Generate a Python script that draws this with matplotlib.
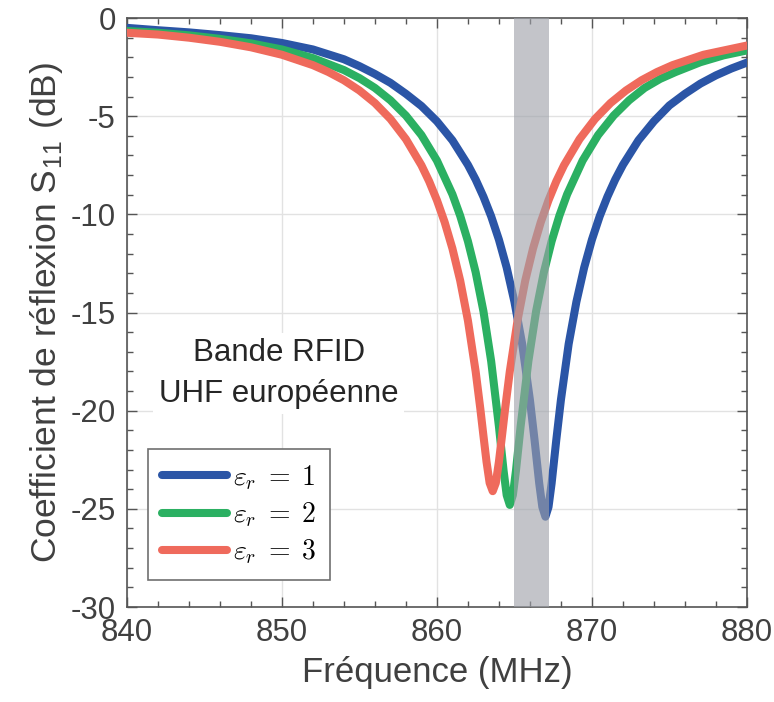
import numpy as np
import matplotlib
matplotlib.use("Agg")
import matplotlib.pyplot as plt
from matplotlib.ticker import MultipleLocator

plt.rcParams['font.family'] = ['Liberation Sans', 'DejaVu Sans']
plt.rcParams['mathtext.fontset'] = 'cm'
plt.rcParams['axes.unicode_minus'] = False

# S11 (dB), one curve per permittivity
f_er1 = [840, 842, 844, 846, 848, 850, 852, 854, 855, 856, 857, 858, 859, 860, 861, 862, 862.5,
         863, 863.5, 864, 864.5, 865, 865.5, 866, 866.3, 866.6, 866.8, 867, 867.2, 867.4, 867.7,
         868, 868.5, 869, 869.5, 870, 870.5, 871, 871.5, 872, 873, 874, 875, 876, 877, 878, 879, 880]
s_er1 = [-0.5, -0.62, -0.73, -0.87, -1.03, -1.27, -1.6, -2.1, -2.45, -2.85, -3.3, -3.86, -4.48,
         -5.26, -6.23, -7.48, -8.23, -9.1, -10.1, -11.29, -12.71, -14.45, -16.6, -19.45, -21.5,
         -23.7, -24.9, -25.4, -24.9, -23.7, -21.5, -19.45, -16.6, -14.45, -12.71, -11.29, -10.1,
         -9.1, -8.23, -7.48, -6.23, -5.26, -4.45, -3.86, -3.34, -2.92, -2.57, -2.27]

f_er2 = [840, 842, 844, 846, 848, 850, 852, 854, 855, 856, 857, 858, 859, 860, 861, 861.5, 862,
         862.5, 863, 863.5, 864, 864.3, 864.5, 864.7, 864.9, 865.1, 865.4, 865.9, 866.4, 866.9,
         867.4, 867.9, 868.4, 869.4, 870.4, 871.4, 872.4, 873.4, 874.4, 875.4, 877, 878.5, 880]
s_er2 = [-0.66, -0.75, -0.88, -1.06, -1.29, -1.6, -2.04, -2.65, -3.06, -3.56, -4.19, -4.97, -5.96,
         -7.26, -8.98, -10.07, -11.37, -12.95, -14.93, -17.48, -20.8, -23.05, -24.3, -24.8, -24.3,
         -23.05, -20.8, -17.48, -14.93, -12.95, -11.37, -10.07, -8.98, -7.26, -5.96, -4.97, -4.19,
         -3.56, -3.1, -2.75, -2.25, -1.9, -1.65]

f_er3 = [840, 842, 844, 846, 848, 850, 852, 853, 854, 855, 856, 857, 858, 859, 859.5, 860, 860.5,
         861, 861.5, 862, 862.5, 862.8, 863, 863.2, 863.4, 863.6, 863.8, 864, 864.2, 864.4, 864.7,
         865.2, 865.7, 866.2, 866.7, 867.2, 867.7, 868.2, 869.2, 870.2, 871.2, 872.2, 873.2, 874.2,
         875.2, 877.2, 880]
s_er3 = [-0.75, -0.84, -1.0, -1.21, -1.49, -1.87, -2.4, -2.75, -3.17, -3.69, -4.33, -5.14, -6.17,
         -7.5, -8.32, -9.28, -10.4, -11.74, -13.37, -15.41, -18.01, -19.9, -21.27, -22.6, -23.68,
         -24.1, -23.68, -22.6, -21.27, -19.9, -18.01, -15.41, -13.37, -11.74, -10.4, -9.28, -8.32,
         -7.5, -6.17, -5.14, -4.33, -3.69, -3.17, -2.75, -2.4, -1.87, -1.4]

labels = [r'$\varepsilon_r \;=\; 1$', r'$\varepsilon_r \;=\; 2$', r'$\varepsilon_r \;=\; 3$']
colors = ['#2b55a6', '#2bb062', '#ef6a5c']

band = (865.0, 867.2)

fig = plt.figure(figsize=(7.74, 7.02), dpi=100)
ax = fig.add_axes([0.164, 0.1353, 0.801, 0.8390])

for f, s, lab, c in zip([f_er1, f_er2, f_er3], [s_er1, s_er2, s_er3], labels, colors):
    ax.plot(f, s, color=c, lw=5.8, label=lab, solid_joinstyle='round',
            solid_capstyle='round', zorder=3)

ax.axvspan(band[0], band[1], color='#9ea1a9', alpha=0.62, lw=0, zorder=4)

ax.set_xlim(840, 880)
ax.set_ylim(-30, 0)
ax.xaxis.set_major_locator(MultipleLocator(10))
ax.xaxis.set_minor_locator(MultipleLocator(2))
ax.yaxis.set_major_locator(MultipleLocator(5))
ax.yaxis.set_minor_locator(MultipleLocator(1))
ax.grid(True, which='major', color='#e2e2e2', lw=1.0, zorder=0)
ax.set_axisbelow(True)

txtc = '#404040'
ax.tick_params(which='both', direction='in', top=True, right=True, colors='#555555',
               labelcolor=txtc, labelsize=22.5, width=1)
ax.tick_params(which='major', length=7, pad=8)
ax.tick_params(which='minor', length=4)
for sp in ax.spines.values():
    sp.set_color('#555555')
    sp.set_linewidth(1.2)

ax.set_xlabel('Fréquence (MHz)', fontsize=25, color=txtc, labelpad=6)
ax.set_ylabel(r'Coefficient de réflexion S$_{\mathregular{11}}$ (dB)', fontsize=25.5,
              color=txtc, labelpad=4)

ax.text(849.8, -18.1, 'Bande RFID\nUHF européenne', fontsize=22.5, color='#262626',
        ha='center', va='center', linespacing=1.45, zorder=5,
        bbox=dict(facecolor='white', edgecolor='none', pad=4))

leg = ax.legend(loc='lower left', bbox_to_anchor=(0.034, 0.046), fontsize=20,
                frameon=True, fancybox=False, edgecolor='#707070', framealpha=1,
                handlelength=2.35, handletextpad=0.2, borderpad=0.5, labelspacing=0.3,
                borderaxespad=0)
leg.get_frame().set_linewidth(1.2)
leg.set_zorder(6)

fig.savefig('out.png', dpi=100)
